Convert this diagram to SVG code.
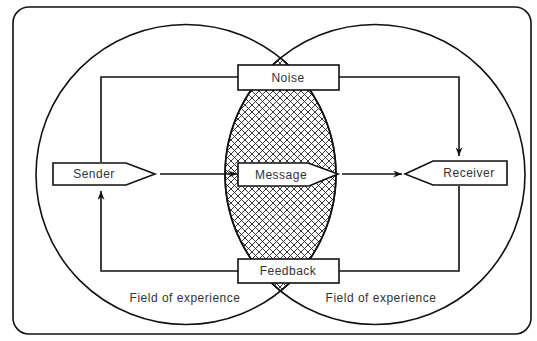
<svg xmlns="http://www.w3.org/2000/svg" width="537" height="341" viewBox="0 0 537 341">
<style>
.ln{fill:none;stroke:#111;stroke-width:1.6}
.box{fill:#fff;stroke:#111;stroke-width:1.6}
.t{font-family:"Liberation Sans",Arial,sans-serif;font-size:12px;fill:#333;letter-spacing:0.5px;text-anchor:middle;dominant-baseline:central}
</style>
<defs>
<pattern id="hatch" width="7" height="7" patternUnits="userSpaceOnUse">
<path d="M0 0L7 7M7 0L0 7M-1 6L1 8M6 -1L8 1M-1 1L1 -1M6 8L8 6" stroke="#222" stroke-width="0.9"/>
</pattern>
<marker id="arr" viewBox="0 0 10 8" refX="10" refY="4" markerWidth="9" markerHeight="7" markerUnits="userSpaceOnUse" orient="auto">
<path d="M0 0L10 4L0 8L3 4Z" fill="#111"/>
</marker>
</defs>
<rect width="537" height="341" fill="#fff"/>
<g id="frame">
<rect x="13" y="7" width="518" height="327" rx="16" class="ln"/>
</g>
<g id="fields">
<circle cx="186" cy="174.5" r="150" class="ln"/>
<circle cx="375" cy="174.5" r="150" class="ln"/>
<path d="M280.5 58A150 150 0 0 0 280.5 291A150 150 0 0 0 280.5 58Z" fill="url(#hatch)" stroke="#111" stroke-width="1.6"/>
<text class="t" x="185" y="298">Field of experience</text>
<text class="t" x="381" y="298">Field of experience</text>
</g>
<g id="connectors">
<polyline points="238,77 101,77 101,162" class="ln"/>
<polyline points="339,77 459,77 459,156" class="ln" marker-end="url(#arr)"/>
<line x1="160" y1="174" x2="237" y2="174" class="ln" marker-end="url(#arr)"/>
<line x1="342" y1="174" x2="402" y2="174" class="ln" marker-end="url(#arr)"/>
<polyline points="459,186 459,271 339,271" class="ln"/>
<polyline points="238,271 101,271 101,191" class="ln" marker-end="url(#arr)"/>
</g>
<g id="noise">
<rect x="238" y="65" width="101" height="25" class="box"/>
<text class="t" x="288" y="77.5">Noise</text>
</g>
<g id="sender">
<polygon points="53,163 126,163 155,174 126,185 53,185" class="box"/>
<text class="t" x="94" y="174">Sender</text>
</g>
<g id="message">
<polygon points="238,163 308,163 338,174 309,186 238,186" class="box"/>
<text class="t" x="281" y="174.5">Message</text>
</g>
<g id="receiver">
<polygon points="405,174 433,161 507,161 507,185 433,185" class="box"/>
<text class="t" x="469" y="173">Receiver</text>
</g>
<g id="feedback">
<rect x="238" y="259" width="101" height="24" class="box"/>
<text class="t" x="288" y="271">Feedback</text>
</g>
</svg>
